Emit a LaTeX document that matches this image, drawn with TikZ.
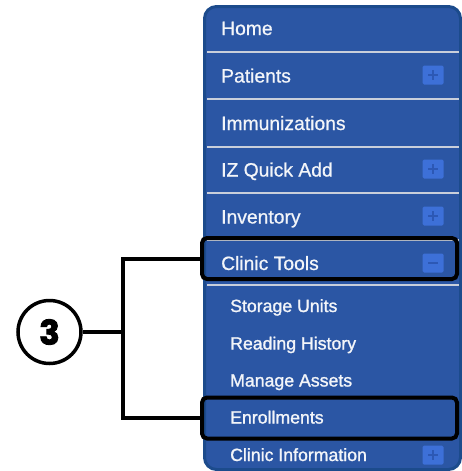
\documentclass[tikz,border=0pt]{standalone}
\usepackage{fontspec}
\setmainfont{Liberation Sans}
\newfontfamily\menufont{Liberation Sans}[UprightFeatures={FakeBold=0.7}]
\newfontfamily\subfont{Liberation Sans}[UprightFeatures={FakeBold=1.3}]
\newfontfamily\numfont{Poppins}[FakeBold=2.5]
\usepackage{tikz}
\usetikzlibrary{calc,positioning,backgrounds}
\definecolor{panelblue}{HTML}{2B56A4}
\definecolor{paneledge}{HTML}{1C4B8C}
\definecolor{sepgray}{HTML}{C9CFDB}
\definecolor{plusblue}{HTML}{3D70D8}
\definecolor{plusmark}{HTML}{2C58B5}
\definecolor{menutext}{HTML}{F3F5F9}

\begin{document}
\begin{tikzpicture}[x=1pt,y=-1pt,
	item/.style={anchor=base west,inner sep=0pt,text=menutext,font=\menufont\fontsize{19.3}{22}\selectfont},
	subitem/.style={anchor=base west,inner sep=0pt,text=menutext,font=\subfont\fontsize{17.7}{21}\selectfont},
	plusbox/.style={fill=plusblue,rounded corners=1.5pt,minimum width=21pt,minimum height=19pt,inner sep=0pt},
	sepline/.style={draw=sepgray,line width=2pt},
	hilite/.style={draw=black,line width=4pt,rounded corners=5pt,minimum width=255pt,inner sep=0pt},
	bracket/.style={draw=black,line width=4pt}]
		\useasboundingbox (0,0) rectangle (462,471);
		% menu panel
		\draw [fill=panelblue,draw=paneledge,line width=3pt,rounded corners=12pt] (204.5,6.5) rectangle (460.5,469.5);
		\draw [sepline] (207,52) -- (459,52);
		\draw [sepline] (207,99) -- (459,99);
		\draw [sepline] (207,147) -- (459,147);
		\draw [sepline] (207,193) -- (459,193);
		\draw [sepline] (207,240) -- (459,240);
		\draw [sepline] (207,285) -- (459,285);
		\node(home) [item] at (221,35) {Home};
		\node(pat) [item] at (221,82.5) {Patients};
		\node(imm) [item] at (221,130) {Immunizations};
		\node(izq) [item] at (221,176.5) {IZ Quick Add};
		\node(inv) [item] at (221,223.5) {Inventory};
		\node(clt) [item] at (221,270) {Clinic Tools};
		\node(stor) [subitem] at (230,312) {Storage Units};
		\node(read) [subitem] at (230,349.5) {Reading History};
		\node(asset) [subitem] at (230,386.5) {Manage Assets};
		\node(enr) [subitem] at (230,423.5) {Enrollments};
		\node(info) [subitem] at (230,461) {Clinic Information};
		% plus / minus buttons
		\node(p1) [plusbox] at (433,75) {};
		\node(p2) [plusbox] at (433,169) {};
		\node(p3) [plusbox] at (433,216) {};
		\node(m1) [plusbox] at (433,263) {};
		\node(p4) [plusbox] at (433,455) {};
		\draw [plusmark,line width=1.4pt] (p1.center) ++(-5,0) -- ++(10,0) (p1.center) ++(0,-5) -- ++(0,10);
		\draw [plusmark,line width=1.4pt] (p2.center) ++(-5,0) -- ++(10,0) (p2.center) ++(0,-5) -- ++(0,10);
		\draw [plusmark,line width=1.4pt] (p3.center) ++(-5,0) -- ++(10,0) (p3.center) ++(0,-5) -- ++(0,10);
		\draw [plusmark,line width=1.4pt] (m1.center) ++(-5,0) -- ++(10,0);
		\draw [plusmark,line width=1.4pt] (p4.center) ++(-5,0) -- ++(10,0) (p4.center) ++(0,-5) -- ++(0,10);
		% callout
		\node(ctbox) [hilite,minimum height=41pt] at (329.5,258.5) {};
		\node(enbox) [hilite,minimum height=41pt] at (329.5,418) {};
		\node(num) [shape=circle,draw,line width=3.5pt,minimum size=63pt,inner sep=0pt,font=\numfont\bfseries\fontsize{34}{34}\selectfont] at (49.5,332) {3};
		\coordinate(junc) at (123,332);
		\draw [bracket] (ctbox.west) -| (junc) |- (enbox.west);
		\draw [bracket] (num) -- (junc);
	\end{tikzpicture}
\end{document}
